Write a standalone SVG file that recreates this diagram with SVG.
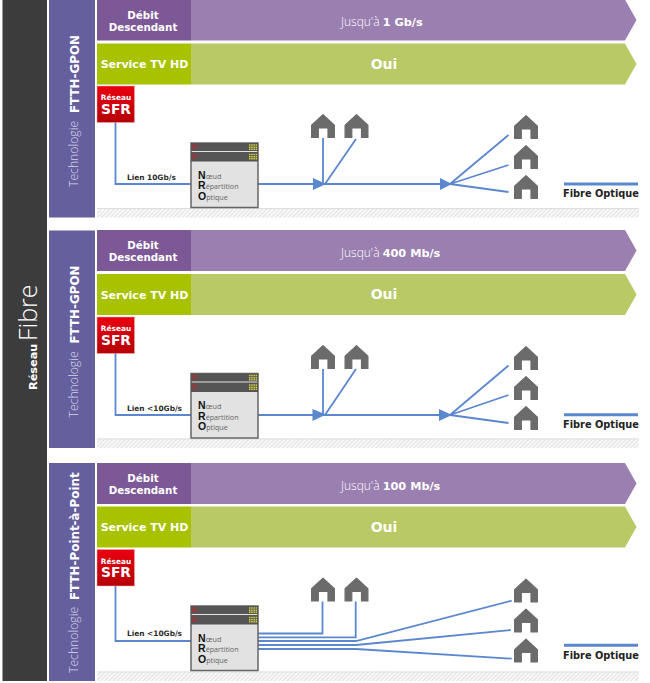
<svg xmlns="http://www.w3.org/2000/svg" width="650" height="683" viewBox="0 0 650 683">
<style>
text{font-family:"DejaVu Sans","Liberation Sans",sans-serif;fill:#fff}
.b{font-weight:700}
.head{font-size:10.300px;font-weight:700;text-anchor:middle}
.tv{font-size:11px;font-weight:700;text-anchor:middle}
.sp{font-family:"Open Sans","Liberation Sans",sans-serif;font-size:12px;font-weight:300}
.spb{font-family:"DejaVu Sans","Liberation Sans",sans-serif;font-size:11.300px;font-weight:700}
.oui{font-size:14px;font-weight:700;text-anchor:middle}
.rs{font-size:7.400px;font-weight:700;text-anchor:middle}
.sfr{font-size:13.800px;font-weight:700;text-anchor:middle}
.lk{font-size:7.400px;font-weight:700;fill:#2b2b2b}
.nro{font-family:"Open Sans","Liberation Sans",sans-serif;font-size:7.200px;fill:#666}
.nrb{font-family:"Liberation Sans",sans-serif;font-size:10.500px;font-weight:700;fill:#111}
.leg{font-size:9.800px;font-weight:700;fill:#222}
.tech{font-family:"Open Sans","Liberation Sans",sans-serif;font-size:12.200px;font-weight:300;fill:#d6d4e8}
.ft{font-size:11.900px;font-weight:700}
.pur{fill:#9a7fb0}.purd{fill:#7d5897}.gre{fill:#b8c965}.gred{fill:#a9c200}
.w{fill:none;stroke:#5b87cf;stroke-width:1.800}
.legl{stroke:#5b87cf;stroke-width:3}
.ah{fill:#5b87cf}
.h{fill:#6b6b6b;stroke:#6b6b6b;stroke-width:1.200;stroke-linejoin:round}
.dr{stroke:#a83232;stroke-width:2;stroke-dasharray:2 1;fill:none}
.dy{stroke:#cfcf3c;stroke-width:1.500;stroke-dasharray:1.500 .7;fill:none}
</style>
<defs>
<linearGradient id="red" x1="0" y1="0" x2="0" y2="1"><stop offset="0" stop-color="#ea0010"/><stop offset="1" stop-color="#b50007"/></linearGradient>
<pattern id="hatch" width="3" height="3" patternUnits="userSpaceOnUse" patternTransform="rotate(45)"><rect width="3" height="3" fill="#f8f8f8"/><rect width="1" height="3" fill="#e2e2e2"/></pattern>
<path id="house" d="M12 .6L23.400 11.200V23.400H17V14H7.300V23.400H.6V11.200Z"/>
<path id="bandp" d="M94 0H528L539.500 20.500L528 41H94Z"/>
<g id="srv"><rect width="67" height="64.500" fill="#e2e2e2" stroke="#666" stroke-width="1.500"/><rect width="67" height="8" fill="#555"/><rect y="9" width="67" height="9.500" fill="#555"/>
<path class="dr" d="M1 2.200H7M1 5H7M1 12H7M1 14.800H7"/>
<path class="dy" d="M58 2H66M58 4.200H66M58 6.300H66M58 11.500H66M58 13.700H66M58 15.800H66"/></g>
<g id="nrot"><text class="nrb" x="7" y="35.500">N</text><text class="nro" x="14.700" y="35.500">œud</text><text class="nrb" x="7" y="46">R</text><text class="nro" x="14.700" y="46">épartition</text><text class="nrb" x="7" y="56.500">O</text><text class="nro" x="15.200" y="56.500">ptique</text></g>
</defs>
<rect width="650" height="683" fill="#fff"/>

<g id="reseau-fibre">
<rect x="2.500" y="0" width="44.500" height="681" fill="#3c3c3c"/>
<text transform="translate(36.500,390) rotate(-90)" class="b" font-size="11.300">Réseau</text>
<text transform="translate(37,341) rotate(-90)" style="font-family:'Open Sans','Liberation Sans',sans-serif" font-size="25" font-weight="300" fill="#ddd">Fibre</text>
</g>

<g id="tech1"><rect x="49" y="0" width="46" height="217.500" fill="#655f9e"/>
<text class="tech" transform="translate(78,187) rotate(-90)">Technologie</text>
<text class="ft" transform="translate(79,113) rotate(-90)">FTTH-GPON</text></g>
<g id="tech2"><rect x="49" y="230.500" width="46" height="217.500" fill="#655f9e"/>
<text class="tech" transform="translate(78,417.500) rotate(-90)">Technologie</text>
<text class="ft" transform="translate(79,343.500) rotate(-90)">FTTH-GPON</text></g>
<g id="tech3"><rect x="49" y="463" width="46" height="218" fill="#655f9e"/>
<text class="tech" transform="translate(78,673) rotate(-90)">Technologie</text>
<text class="ft" transform="translate(79,600) rotate(-90)">FTTH-Point-à-Point</text></g>

<g id="speed1" transform="translate(97,-0.500)"><use href="#bandp" class="pur"/><rect width="94" height="41" class="purd"/>
<text class="head" x="46" y="19">Débit</text><text class="head" x="46" y="31">Descendant</text>
<text class="sp" x="244" y="26.500">Jusqu'à <tspan class="spb">1 Gb/s</tspan></text></g>
<g id="tv1" transform="translate(97,43.500)"><use href="#bandp" class="gre"/><rect width="94" height="41" class="gred"/>
<text class="tv" x="47.500" y="24.500">Service TV HD</text><text class="oui" x="287" y="25">Oui</text></g>

<g id="speed2" transform="translate(97,230)"><use href="#bandp" class="pur"/><rect width="94" height="41" class="purd"/>
<text class="head" x="46" y="19">Débit</text><text class="head" x="46" y="31">Descendant</text>
<text class="sp" x="244" y="26.500">Jusqu'à <tspan class="spb">400 Mb/s</tspan></text></g>
<g id="tv2" transform="translate(97,274)"><use href="#bandp" class="gre"/><rect width="94" height="41" class="gred"/>
<text class="tv" x="47.500" y="24.500">Service TV HD</text><text class="oui" x="287" y="25">Oui</text></g>

<g id="speed3" transform="translate(97,463)"><use href="#bandp" class="pur"/><rect width="94" height="41" class="purd"/>
<text class="head" x="46" y="19">Débit</text><text class="head" x="46" y="31">Descendant</text>
<text class="sp" x="244" y="26.500">Jusqu'à <tspan class="spb">100 Mb/s</tspan></text></g>
<g id="tv3" transform="translate(97,506.500)"><use href="#bandp" class="gre"/><rect width="94" height="41" class="gred"/>
<text class="tv" x="47.500" y="24.500">Service TV HD</text><text class="oui" x="287" y="25">Oui</text></g>

<g id="ground" stroke="none">
<rect x="97" y="208" width="542" height="9.500" fill="url(#hatch)"/><rect x="97" y="208" width="542" height="1" fill="#dedede"/>
<rect x="97" y="438.500" width="542" height="9.500" fill="url(#hatch)"/><rect x="97" y="438.500" width="542" height="1" fill="#dedede"/>
<rect x="97" y="671.500" width="542" height="9.500" fill="url(#hatch)"/><rect x="97" y="671.500" width="542" height="1" fill="#dedede"/>
</g>

<g id="connectors">
<path class="w" d="M115.500 122V184H191M258 184H441M323 138V184M356 139L325 184M450 184L508.500 135M450 184L508.500 165M450 184L508.500 192"/>
<path class="ah" d="M313 178L326 184L313 190ZM440 178L452 184L440 190Z"/>
<path class="w" d="M115.500 353V415H191M258 415H441M323 369V415M356 369L325 415M450 415L508.500 365.500M450 415L508.500 395M450 415L508.500 423"/>
<path class="ah" d="M312.500 409L326 414.500L312.500 421ZM439 409L452 415L439 421Z"/>
<path class="w" d="M115.500 586V641H191M258 633.500H322.500V601.500M258 637.300H355.700V601.500M258 641H356L511.700 600.700M258 645H356L510.700 630M258 649H356L511.700 658.700"/>
</g>

<g id="sfr1" transform="translate(97,86)"><rect width="37.500" height="36.500" fill="url(#red)" stroke="#f4b0b0" stroke-width="0.500"/><text class="rs" x="19" y="14">Réseau</text><text class="sfr" x="19" y="27.500">SFR</text></g>
<g id="sfr2" transform="translate(97,317)"><rect width="37.500" height="36.500" fill="url(#red)" stroke="#f4b0b0" stroke-width="0.500"/><text class="rs" x="19" y="14">Réseau</text><text class="sfr" x="19" y="27.500">SFR</text></g>
<g id="sfr3" transform="translate(97,549.500)"><rect width="37.500" height="36.500" fill="url(#red)" stroke="#f4b0b0" stroke-width="0.500"/><text class="rs" x="19" y="14">Réseau</text><text class="sfr" x="19" y="27.500">SFR</text></g>

<text class="lk" id="lien1" x="127" y="180">Lien 10Gb/s</text>
<text class="lk" id="lien2" x="127" y="411">Lien &lt;10Gb/s</text>
<text class="lk" id="lien3" x="127" y="636">Lien &lt;10Gb/s</text>

<g id="nro1" transform="translate(191,143)"><use href="#srv"/><use href="#nrot"/></g>
<g id="nro2" transform="translate(191,373.500)"><use href="#srv"/><use href="#nrot"/></g>
<g id="nro3" transform="translate(191,606)"><use href="#srv"/><use href="#nrot"/></g>

<g id="h1a" transform="translate(311,114)"><use href="#house" class="h"/></g>
<g id="h1b" transform="translate(344.500,114)"><use href="#house" class="h"/></g>
<g id="h1c" transform="translate(514,115)"><use href="#house" class="h"/></g>
<g id="h1d" transform="translate(514,145)"><use href="#house" class="h"/></g>
<g id="h1e" transform="translate(514,175)"><use href="#house" class="h"/></g>
<g id="h2a" transform="translate(311,345)"><use href="#house" class="h"/></g>
<g id="h2b" transform="translate(344.500,345)"><use href="#house" class="h"/></g>
<g id="h2c" transform="translate(514,346)"><use href="#house" class="h"/></g>
<g id="h2d" transform="translate(514,376)"><use href="#house" class="h"/></g>
<g id="h2e" transform="translate(514,406)"><use href="#house" class="h"/></g>
<g id="h3a" transform="translate(311,577.500)"><use href="#house" class="h"/></g>
<g id="h3b" transform="translate(344.500,577.500)"><use href="#house" class="h"/></g>
<g id="h3c" transform="translate(514,578.500)"><use href="#house" class="h"/></g>
<g id="h3d" transform="translate(514,608.500)"><use href="#house" class="h"/></g>
<g id="h3e" transform="translate(514,638.500)"><use href="#house" class="h"/></g>

<g id="legend1"><line class="legl" x1="564" x2="638" y1="184" y2="184"/><text class="leg" x="563" y="197">Fibre Optique</text></g>
<g id="legend2"><line class="legl" x1="564" x2="638" y1="414.700" y2="414.700"/><text class="leg" x="563" y="428">Fibre Optique</text></g>
<g id="legend3"><line class="legl" x1="564" x2="638" y1="645.300" y2="645.300"/><text class="leg" x="563" y="658.500">Fibre Optique</text></g>
</svg>
